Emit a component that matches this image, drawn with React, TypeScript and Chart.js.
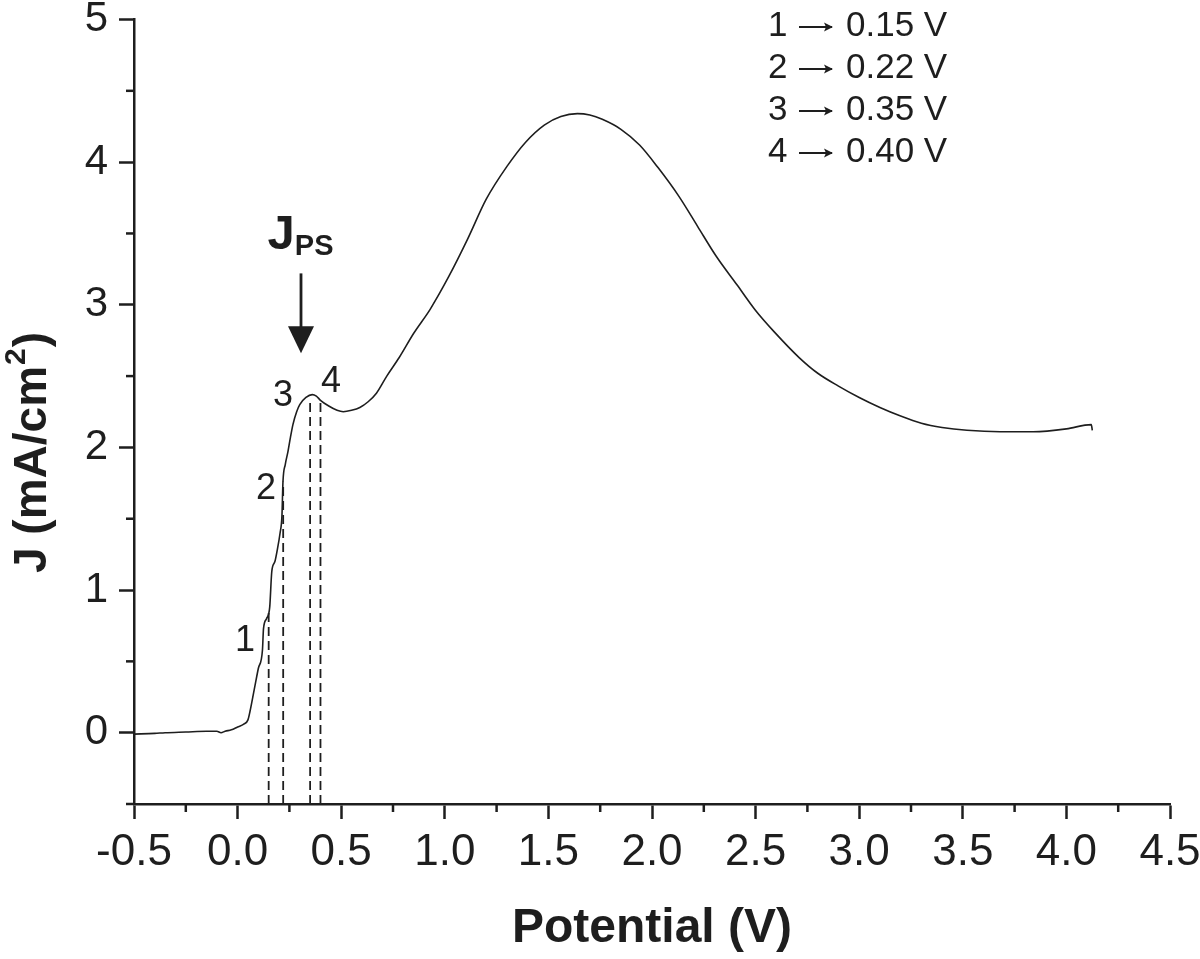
import React, { useEffect, useRef } from "react";
import { Chart, registerables } from "chart.js";

Chart.register(...registerables);

const INK = "#1e1e1e";
const FONT = '"Liberation Sans", Arial, Helvetica, sans-serif';

// Polarization curve J vs potential
const potential = [
  -0.5, -0.4, -0.35, -0.25, -0.15, -0.1, -0.08, -0.06, -0.03, 0.0, 0.03, 0.05,
  0.06, 0.08, 0.1, 0.12, 0.125, 0.14, 0.155, 0.165, 0.18, 0.19, 0.205, 0.214,
  0.219, 0.23, 0.243, 0.255, 0.267, 0.285, 0.3, 0.33, 0.36, 0.38, 0.4, 0.44,
  0.48, 0.51, 0.55, 0.59, 0.63, 0.67, 0.72, 0.78, 0.85, 0.93, 1.02, 1.11, 1.2,
  1.3, 1.39, 1.48, 1.56, 1.64, 1.7, 1.76, 1.85, 1.94, 2.03, 2.13, 2.22, 2.31,
  2.41, 2.5, 2.59, 2.71, 2.8, 2.9, 3.0, 3.1, 3.2, 3.3, 3.4, 3.52, 3.68, 3.84,
  4.0, 4.12, 4.125,
];
const current = [
  -0.01, -0.005, 0.0, 0.005, 0.01, 0.01, 0.0, 0.01, 0.02, 0.04, 0.06, 0.09,
  0.15, 0.3, 0.45, 0.58, 0.73, 0.8, 0.88, 1.13, 1.2, 1.27, 1.4, 1.52, 1.76,
  1.88, 1.97, 2.07, 2.16, 2.25, 2.3, 2.35, 2.37, 2.36, 2.33, 2.29, 2.26, 2.25,
  2.26, 2.28, 2.32, 2.38, 2.5, 2.63, 2.8, 2.97, 3.2, 3.46, 3.74, 3.97, 4.14,
  4.26, 4.32, 4.34, 4.33, 4.3, 4.23, 4.12, 3.96, 3.76, 3.55, 3.34, 3.14, 2.96,
  2.81, 2.63, 2.52, 2.43, 2.35, 2.28, 2.22, 2.17, 2.14, 2.12, 2.11, 2.11, 2.13,
  2.16, 2.12,
];

// Marked potentials (dashed verticals)
const markerPotentials = [0.15, 0.22, 0.35, 0.4];
const markerTops = [0.87, 1.76, 2.34, 2.32];
const markerLabels = ["1", "2", "3", "4"];
const markerLabelX = [0.036, 0.137, 0.219, 0.451];
const markerLabelY = [0.64, 1.71, 2.36, 2.46];

const legendNumbers = ["1", "2", "3", "4"];
const legendValues = ["0.15 V", "0.22 V", "0.35 V", "0.40 V"];

// J_PS annotation (data coords)
const jpsLabelPos = [0.1445, 3.39];
const jpsArrowX = 0.306;
const jpsArrowTop = 3.22;
const jpsArrowHeadBase = 2.85;
const jpsArrowTip = 2.66;

const xTicks = [-0.5, 0, 0.5, 1, 1.5, 2, 2.5, 3, 3.5, 4, 4.5];
const xMinorTicks = [-0.25, 0.25, 0.75, 1.25, 1.75, 2.25, 2.75, 3.25, 3.75, 4.25];
const yTicks = [0, 1, 2, 3, 4, 5];
const yMinorTicks = [-0.5, 0.5, 1.5, 2.5, 3.5, 4.5];

const decorPlugin = {
  id: "decor",
  afterDraw(chart: any) {
    const { ctx, chartArea } = chart;
    const xs = chart.scales.x;
    const ys = chart.scales.y;
    ctx.save();
    ctx.strokeStyle = INK;
    ctx.fillStyle = INK;
    ctx.lineWidth = 2.5;
    for (const v of xMinorTicks) {
      const px = xs.getPixelForValue(v);
      ctx.beginPath();
      ctx.moveTo(px, chartArea.bottom);
      ctx.lineTo(px, chartArea.bottom + 8);
      ctx.stroke();
    }
    for (const v of yMinorTicks) {
      const py = ys.getPixelForValue(v);
      ctx.beginPath();
      ctx.moveTo(chartArea.left - 8, py);
      ctx.lineTo(chartArea.left, py);
      ctx.stroke();
    }

    // Y axis title with superscript
    ctx.save();
    ctx.translate(46, 573);
    ctx.rotate(-Math.PI / 2);
    ctx.textAlign = "left";
    ctx.textBaseline = "alphabetic";
    ctx.font = `bold 46px ${FONT}`;
    const main = "J (mA/cm";
    ctx.fillText(main, 0, 0);
    let w = ctx.measureText(main).width;
    ctx.font = `bold 30px ${FONT}`;
    ctx.fillText("2", w + 1, -21);
    w += ctx.measureText("2").width + 2;
    ctx.font = `bold 46px ${FONT}`;
    ctx.fillText(")", w, 0);
    ctx.restore();

    // Legend text block: "n → value"
    ctx.font = `35px ${FONT}`;
    ctx.textAlign = "left";
    ctx.textBaseline = "middle";
    ctx.lineWidth = 2;
    legendNumbers.forEach((n, i) => {
      const cy = 26 + i * 42;
      ctx.fillText(n, 768, cy);
      const a0 = 799;
      const a1 = 832;
      const ay = cy + 1;
      ctx.beginPath();
      ctx.moveTo(a0, ay);
      ctx.lineTo(a1, ay);
      ctx.stroke();
      ctx.beginPath();
      ctx.moveTo(a1 + 1, ay);
      ctx.lineTo(a1 - 8, ay - 4.5);
      ctx.lineTo(a1 - 6, ay);
      ctx.lineTo(a1 - 8, ay + 4.5);
      ctx.closePath();
      ctx.fill();
      ctx.fillText(legendValues[i], 846, cy);
    });

    // Marker number labels
    ctx.font = `36px ${FONT}`;
    ctx.textAlign = "center";
    markerLabels.forEach((t, i) => {
      ctx.fillText(t, xs.getPixelForValue(markerLabelX[i]), ys.getPixelForValue(markerLabelY[i]));
    });

    // J_PS label
    ctx.textAlign = "left";
    ctx.textBaseline = "alphabetic";
    const jx = xs.getPixelForValue(jpsLabelPos[0]);
    const jy = ys.getPixelForValue(jpsLabelPos[1]);
    ctx.font = `bold 49px ${FONT}`;
    ctx.fillText("J", jx, jy);
    const jw = ctx.measureText("J").width;
    ctx.font = `bold 29px ${FONT}`;
    ctx.fillText("PS", jx + jw, jy + 6);

    // Arrow
    const ax = xs.getPixelForValue(jpsArrowX);
    const aTop = ys.getPixelForValue(jpsArrowTop);
    const aBase = ys.getPixelForValue(jpsArrowHeadBase);
    const aTip = ys.getPixelForValue(jpsArrowTip);
    ctx.lineWidth = 2.8;
    ctx.beginPath();
    ctx.moveTo(ax, aTop);
    ctx.lineTo(ax, aBase + 2);
    ctx.stroke();
    ctx.beginPath();
    ctx.moveTo(ax - 13, aBase);
    ctx.lineTo(ax + 13, aBase);
    ctx.lineTo(ax, aTip);
    ctx.closePath();
    ctx.fill();

    ctx.restore();
  },
};

export default function App() {
  const ref = useRef<HTMLCanvasElement | null>(null);

  useEffect(() => {
    if (!ref.current) return;
    const datasets: any[] = [
      {
        data: potential.map((p, i) => ({ x: p, y: current[i] })),
        showLine: true,
        borderColor: INK,
        borderWidth: 1.6,
        pointRadius: 0,
        cubicInterpolationMode: "monotone",
      },
      ...markerPotentials.map((p, i) => ({
        data: [
          { x: p, y: -0.5 },
          { x: p, y: markerTops[i] },
        ],
        showLine: true,
        borderColor: INK,
        borderWidth: 1.8,
        borderDash: [9, 5],
        pointRadius: 0,
      })),
    ];

    const chart = new Chart(ref.current, {
      type: "scatter",
      data: { datasets },
      options: {
        responsive: false,
        animation: false,
        events: [],
        layout: { padding: { left: 0, right: 30, top: 19.5, bottom: 0 } },
        plugins: { legend: { display: false }, tooltip: { enabled: false } },
        scales: {
          x: {
            type: "linear",
            min: -0.5,
            max: 4.5,
            afterBuildTicks: (s: any) => {
              s.ticks = xTicks.map((v) => ({ value: v }));
            },
            afterFit: (s: any) => {
              s.height = 155;
              s.paddingLeft = 0;
              s.paddingRight = 0;
            },
            ticks: {
              callback: (v: any) => Number(v).toFixed(1),
              color: INK,
              font: { size: 44, family: FONT },
              padding: 7,
              maxRotation: 0,
              autoSkip: false,
            },
            grid: {
              drawOnChartArea: false,
              drawTicks: true,
              tickLength: 15,
              tickWidth: 2.5,
              tickColor: INK,
            },
            border: { display: true, color: INK, width: 2.5 },
            title: {
              display: true,
              text: "Potential (V)",
              color: INK,
              font: { size: 48, weight: "bold", family: FONT },
              padding: { top: 0, bottom: 1 },
            },
          },
          y: {
            type: "linear",
            min: -0.5,
            max: 5,
            afterBuildTicks: (s: any) => {
              s.ticks = yTicks.map((v) => ({ value: v }));
            },
            afterFit: (s: any) => {
              s.width = 134;
              s.paddingTop = 0;
              s.paddingBottom = 0;
            },
            ticks: {
              callback: (v: any) => String(v),
              color: INK,
              font: { size: 42, family: FONT },
              padding: 11,
              autoSkip: false,
            },
            grid: {
              drawOnChartArea: false,
              drawTicks: true,
              tickLength: 15,
              tickWidth: 2.5,
              tickColor: INK,
            },
            border: { display: true, color: INK, width: 2.5 },
          },
        },
      } as any,
      plugins: [decorPlugin],
    });
    return () => chart.destroy();
  }, []);

  return (
    <div style={{ position: "absolute", left: 0, top: 0, width: 1200, height: 959, background: "#fff" }}>
      <canvas ref={ref} width={1200} height={959} />
    </div>
  );
}
